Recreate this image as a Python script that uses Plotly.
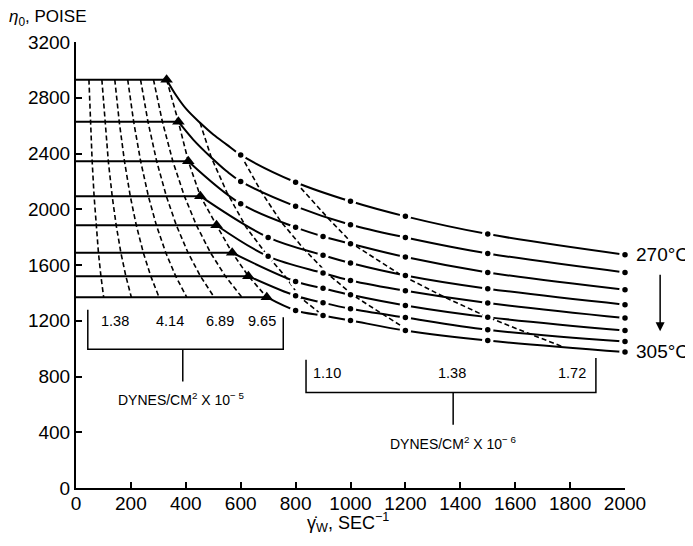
import plotly.graph_objects as go

# ---------------- data ----------------
# zero-shear viscosity plateau (poise) for 270 .. 305 C
eta0 = [2930, 2628, 2345, 2094, 1885, 1688, 1520, 1369]
# shear rate where each plateau ends (triangles), 1/s
tri_gamma = [330, 373, 409, 453, 512, 569, 628, 695]

# measured points (dots) on each curve
curve_gamma = [
    [600, 800, 1000, 1200, 1500, 2000],
    [600, 800, 1000, 1200, 1500, 2000],
    [600, 800, 900, 1000, 1200, 1500, 2000],
    [700, 900, 1000, 1200, 1500, 2000],
    [700, 900, 1000, 1200, 1500, 2000],
    [800, 900, 1000, 1200, 1500, 2000],
    [800, 900, 1000, 1200, 1500, 2000],
    [800, 900, 1000, 1200, 1500, 2000],
]
curve_eta = [
    [2390, 2194, 2057, 1949, 1822, 1674],
    [2200, 2021, 1889, 1798, 1683, 1547],
    [2040, 1870, 1805, 1753, 1657, 1547, 1422],
    [1798, 1670, 1614, 1525, 1430, 1315],
    [1662, 1542, 1489, 1415, 1327, 1219],
    [1482, 1433, 1386, 1310, 1226, 1130],
    [1379, 1329, 1286, 1223, 1135, 1051],
    [1274, 1237, 1202, 1130, 1058, 975],
]
# undotted points traced along the steep start of the upper curves
trace_gamma = [[367, 403, 452, 500, 549], [427, 488, 549], [], [], [], [], [], []]
trace_eta = [[2811, 2716, 2620, 2536, 2464], [2500, 2380, 2272], [], [], [], [], [], []]

# constant-stress lines in the plateau region (dynes/cm2 x 1e-5)
stress_low = [1.38, 2.76, 4.14, 5.52, 6.89, 8.27]
stress_low_labels = ["1.38", "4.14", "6.89", "9.65"]
stress_low_label_gamma = [142, 342, 525, 678]

# constant-stress lines in the shear-thinning region (dynes/cm2 x 1e-6)
stress_high_labels = ["1.10", "1.38", "1.72"]
stress_high_label_gamma = [913, 1369, 1806]
iso_gamma = [
    [452, 493, 550, 620, 700, 768, 815, 900],
    [600, 675, 745, 830, 920, 1010, 1115, 1215],
    [800, 915, 1010, 1180, 1340, 1500, 1650, 1775],
]
iso_eta = [
    [2620, 2371, 2120, 1870, 1662, 1505, 1370, 1237],
    [2390, 2125, 1915, 1715, 1532, 1382, 1250, 1126],
    [2194, 1943, 1748, 1533, 1372, 1226, 1108, 1012],
]

x_ticks = list(range(0, 2001, 200))
y_ticks = list(range(0, 3201, 400))

# ---------------- figure ----------------
BLACK = "black"
FONT = "Liberation Sans, Arial, Helvetica, sans-serif"
DASH = "5px,3px"

fig = go.Figure()

# plateau lines
for e, g in zip(eta0, tri_gamma):
    fig.add_trace(go.Scatter(x=[0, g], y=[e, e], mode="lines",
                             line=dict(color=BLACK, width=2), hoverinfo="skip"))

# constant-stress dashed lines in plateau region: gamma = tau / eta
for s in stress_low:
    xs = [s * 1e5 / e for e in eta0]
    fig.add_trace(go.Scatter(x=xs, y=eta0, mode="lines",
                             line=dict(color=BLACK, width=1.6, dash=DASH), hoverinfo="skip"))
# boundary line through the triangles (9.65)
fig.add_trace(go.Scatter(x=tri_gamma, y=eta0, mode="lines",
                         line=dict(color=BLACK, width=1.6, dash=DASH), hoverinfo="skip"))

# constant-stress dashed lines in shear-thinning region
for gx, gy in zip(iso_gamma, iso_eta):
    fig.add_trace(go.Scatter(x=gx, y=gy, mode="lines",
                             line=dict(color=BLACK, width=1.6, dash=DASH), hoverinfo="skip"))

# viscosity curves
for i in range(len(eta0)):
    pts = [(tri_gamma[i], eta0[i])] + list(zip(trace_gamma[i], trace_eta[i])) + \
          list(zip(curve_gamma[i], curve_eta[i]))
    pts.sort()
    fig.add_trace(go.Scatter(x=[p[0] for p in pts], y=[p[1] for p in pts], mode="lines",
                             line=dict(color=BLACK, width=2, shape="spline"),
                             hoverinfo="skip"))

# dots with white halo
for gx, gy in zip(curve_gamma, curve_eta):
    fig.add_trace(go.Scatter(x=gx, y=gy, mode="markers", cliponaxis=False,
                             marker=dict(size=8.5, color=BLACK, line=dict(color="white", width=3)),
                             hoverinfo="skip"))

# triangles
fig.add_trace(go.Scatter(x=tri_gamma, y=eta0, mode="markers", cliponaxis=False,
                         marker=dict(symbol="triangle-up", size=11, color=BLACK),
                         hoverinfo="skip"))

# brackets
def bracket(x0, x1, ytop0, ytop1, ybot, xstem, ystem):
    path = f"M {x0},{ytop0} L {x0},{ybot} L {x1},{ybot} L {x1},{ytop1}"
    fig.add_shape(type="path", path=path, xref="x", yref="y",
                  line=dict(color=BLACK, width=1.5))
    fig.add_shape(type="line", x0=xstem, x1=xstem, y0=ybot, y1=ystem,
                  xref="x", yref="y", line=dict(color=BLACK, width=1.5))

bracket(43, 755, 1279, 1226, 996, 389, 764)
bracket(838, 1894, 920, 932, 685, 1374, 453)

annotations = []
for t, g in zip(stress_low_labels, stress_low_label_gamma):
    annotations.append(dict(x=g, y=1195, xref="x", yref="y", text=t, showarrow=False,
                            font=dict(family=FONT, size=14.5, color=BLACK)))
for t, g in zip(stress_high_labels, stress_high_label_gamma):
    annotations.append(dict(x=g, y=824, xref="x", yref="y", text=t, showarrow=False,
                            font=dict(family=FONT, size=14.5, color=BLACK)))

annotations.append(dict(x=385, y=640, xref="x", yref="y",
                        text="DYNES/CM<sup>2</sup> X 10<sup>\u2212 5</sup>", showarrow=False,
                        font=dict(family=FONT, size=14, color=BLACK)))
annotations.append(dict(x=1374, y=325, xref="x", yref="y",
                        text="DYNES/CM<sup>2</sup> X 10<sup>\u2212 6</sup>", showarrow=False,
                        font=dict(family=FONT, size=14, color=BLACK)))

# temperature labels and arrow
annotations.append(dict(x=1.016, y=1674, xref="paper", yref="y", text="270\u00b0C",
                        xanchor="left", yanchor="middle", showarrow=False,
                        font=dict(family=FONT, size=19, color=BLACK)))
annotations.append(dict(x=1.016, y=977, xref="paper", yref="y", text="305\u00b0C",
                        xanchor="left", yanchor="middle", showarrow=False,
                        font=dict(family=FONT, size=19, color=BLACK)))
annotations.append(dict(x=1.064, y=1125, xref="paper", yref="y", text="",
                        showarrow=True, ax=0, ay=-58, arrowhead=2, arrowsize=1.2,
                        arrowwidth=1.5, arrowcolor=BLACK))

# axis titles
annotations.append(dict(x=-0.126, y=1.053, xref="paper", yref="paper",
                        text="<i>\u03b7</i><sub>0</sub>, POISE", xanchor="left",
                        yanchor="middle",
                        showarrow=False, font=dict(family=FONT, size=17, color=BLACK)))
annotations.append(dict(x=0.495, y=-0.078, xref="paper", yref="paper",
                        text="\u03b3\u0307<sub>W</sub>, SEC<sup>\u22121</sup>",
                        xanchor="center", yanchor="middle",
                        showarrow=False, font=dict(family=FONT, size=18, color=BLACK)))

fig.update_layout(
    width=685, height=538,
    margin=dict(l=68, r=68, t=34, b=58, autoexpand=False),
    plot_bgcolor="white", paper_bgcolor="white",
    showlegend=False,
    font=dict(family=FONT, color=BLACK, size=19),
    annotations=annotations,
    xaxis=dict(range=[0, 2000], tickvals=x_ticks, showline=True, linecolor=BLACK,
               linewidth=2, ticks="inside", ticklen=6, tickwidth=2, tickcolor=BLACK,
               showgrid=False, zeroline=False, tickfont=dict(size=19), automargin=False,
               ticklabelstandoff=-3),
    yaxis=dict(range=[0, 3200], tickvals=y_ticks, showline=True, linecolor=BLACK,
               linewidth=2, ticks="inside", ticklen=6, tickwidth=2, tickcolor=BLACK,
               showgrid=False, zeroline=False, tickfont=dict(size=19), automargin=False),
)

fig.write_html("out.html")
